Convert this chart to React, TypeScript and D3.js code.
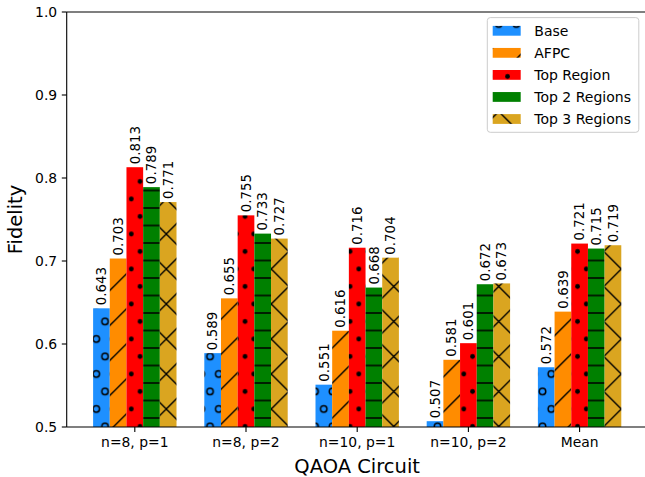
import React, { useEffect, useRef } from 'react';
import * as d3 from 'd3';

const categories = ['n=8, p=1', 'n=8, p=2', 'n=10, p=1', 'n=10, p=2', 'Mean'];
const seriesNames = ['Base', 'AFPC', 'Top Region', 'Top 2 Regions', 'Top 3 Regions'];
const baseValues = [0.643, 0.589, 0.551, 0.507, 0.572];
const afpcValues = [0.703, 0.655, 0.616, 0.581, 0.639];
const topRegionValues = [0.813, 0.755, 0.716, 0.601, 0.721];
const top2Values = [0.789, 0.733, 0.668, 0.672, 0.715];
const top3Values = [0.771, 0.727, 0.704, 0.673, 0.719];
const yTicks = [0.5, 0.6, 0.7, 0.8, 0.9, 1.0];

const seriesValues = [baseValues, afpcValues, topRegionValues, top2Values, top3Values];
const colors = ['#1e90ff', '#ff8c00', '#ff0000', '#008000', '#daa520'];
const hatches = ['o', '/', '.', '-', 'x'];

const App = () => {
    const ref = useRef<SVGSVGElement | null>(null);

    useEffect(() => {
        const width = 645;
        const height = 477;
        const margin = { top: 12, left: 66.7, bottom: 427, right: 647.7 };
        const font = 'DejaVu Sans, sans-serif';
        const barW = 0.15;

        const svg = d3.select(ref.current);
        svg.selectAll('*').remove();
        svg.attr('width', width).attr('height', height);

        const xScale = d3.scaleLinear()
            .domain([-0.6125, categories.length - 1 + 0.6125])
            .range([margin.left, margin.right]);
        const yScale = d3.scaleLinear()
            .domain([0.5, 1.0])
            .range([margin.bottom, margin.top]);

        // hatch patterns, tiled in page coordinates like matplotlib
        const P = 17.5;
        const ox = 131.3;
        const oy = 304;
        const defs = svg.append('defs');
        hatches.forEach((h, i) => {
            const pat = defs.append('pattern')
                .attr('id', 'hatch' + i)
                .attr('patternUnits', 'userSpaceOnUse');
            if (h === 'o' || h === '.') {
                pat.attr('x', ox - P / 4).attr('y', oy - P / 2).attr('width', P).attr('height', 2 * P);
                pat.append('rect').attr('width', P).attr('height', 2 * P).attr('fill', colors[i]);
                [[P / 4, P / 2], [3 * P / 4, 3 * P / 2]].forEach(([cx, cy]) => {
                    pat.append('circle')
                        .attr('cx', cx).attr('cy', cy)
                        .attr('r', h === 'o' ? 3.2 : 2.4)
                        .attr('fill', h === 'o' ? 'none' : 'black')
                        .attr('stroke', h === 'o' ? 'black' : 'none')
                        .attr('stroke-width', 1.5);
                });
            } else if (h === '-') {
                pat.attr('x', ox).attr('y', oy + 9 - P / 2).attr('width', P).attr('height', P);
                pat.append('rect').attr('width', P).attr('height', P).attr('fill', colors[i]);
                pat.append('line').attr('x1', -1).attr('x2', P + 1).attr('y1', P / 2).attr('y2', P / 2)
                    .attr('stroke', 'black').attr('stroke-width', 1.5);
            } else {
                const T = 2 * P;
                pat.attr('x', ox).attr('y', oy).attr('width', T).attr('height', T);
                pat.append('rect').attr('width', T).attr('height', T).attr('fill', colors[i]);
                let d = `M-2,${T + 2}L${T + 2},-2M-2,2L2,-2M${T - 2},${T + 2}L${T + 2},${T - 2}`;
                if (h === 'x') {
                    d += `M-2,-2L${T + 2},${T + 2}M${T - 2},-2L${T + 2},2M-2,${T - 2}L2,${T + 2}`;
                }
                pat.append('path').attr('d', d).attr('stroke', 'black').attr('stroke-width', 1.4).attr('fill', 'none');
            }
        });

        const g = svg.append('g').attr('font-family', font);

        // bars
        seriesValues.forEach((vals, j) => {
            const off = (j - (seriesValues.length - 1) / 2) * barW;
            const bw = xScale(barW) - xScale(0);
            g.selectAll('.bar' + j)
                .data(vals)
                .enter()
                .append('rect')
                .attr('x', (d, i) => xScale(i + off) - bw / 2)
                .attr('y', d => yScale(d))
                .attr('width', bw)
                .attr('height', d => yScale(0.5) - yScale(d))
                .attr('fill', `url(#hatch${j})`);

            g.selectAll('.lab' + j)
                .data(vals)
                .enter()
                .append('text')
                .attr('transform', (d, i) => `translate(${xScale(i + off)}, ${yScale(d) - 3}) rotate(-90)`)
                .attr('dy', '0.35em')
                .attr('font-size', 13.4)
                .attr('fill', 'black')
                .text(d => d3.format('.3f')(d));
        });

        // spines
        const spineLine = (x1: number, y1: number, x2: number, y2: number) =>
            g.append('line').attr('x1', x1).attr('y1', y1).attr('x2', x2).attr('y2', y2)
                .attr('stroke', 'black').attr('stroke-width', 1.1);
        spineLine(margin.left, margin.top, margin.left, margin.bottom);
        spineLine(margin.left, margin.bottom, margin.right, margin.bottom);
        spineLine(margin.left, margin.top, margin.right, margin.top);
        spineLine(margin.right, margin.top, margin.right, margin.bottom);

        // y axis ticks
        yTicks.forEach(t => {
            spineLine(margin.left - 4.9, yScale(t), margin.left, yScale(t));
            g.append('text').attr('x', margin.left - 9.5).attr('y', yScale(t)).attr('dy', '0.35em')
                .attr('text-anchor', 'end').attr('font-size', 13.9).text(t.toFixed(1));
        });

        // x axis ticks
        categories.forEach((c, i) => {
            spineLine(xScale(i), margin.bottom, xScale(i), margin.bottom + 4.9);
            g.append('text').attr('x', xScale(i)).attr('y', 447)
                .attr('text-anchor', 'middle').attr('font-size', 13.9).text(c);
        });

        // axis labels
        g.append('text').attr('x', (margin.left + margin.right) / 2).attr('y', 473)
            .attr('text-anchor', 'middle').attr('font-size', 19.5).text('QAOA Circuit');
        g.append('text').attr('transform', `translate(22, ${(margin.top + margin.bottom) / 2}) rotate(-90)`)
            .attr('text-anchor', 'middle').attr('font-size', 19.5).text('Fidelity');

        // legend
        const lg = g.append('g');
        lg.append('rect').attr('x', 487.3).attr('y', 17.6).attr('width', 151.5).attr('height', 114.7)
            .attr('rx', 3).attr('fill', 'white').attr('fill-opacity', 0.8)
            .attr('stroke', '#cccccc').attr('stroke-width', 1);
        seriesNames.forEach((name, j) => {
            const cy = 30.8 + j * 22.05;
            lg.append('rect').attr('x', 492.7).attr('y', cy - 4.9).attr('width', 28).attr('height', 9.8)
                .attr('fill', `url(#hatch${j})`);
            lg.append('text').attr('x', 534.3).attr('y', cy).attr('dy', '0.35em')
                .attr('font-size', 14).text(name);
        });
    }, []);

    return (
        <div style={{ position: 'absolute', left: 0, top: 0 }}>
            <svg ref={ref} style={{ display: 'block' }} />
        </div>
    );
};

export default App;
